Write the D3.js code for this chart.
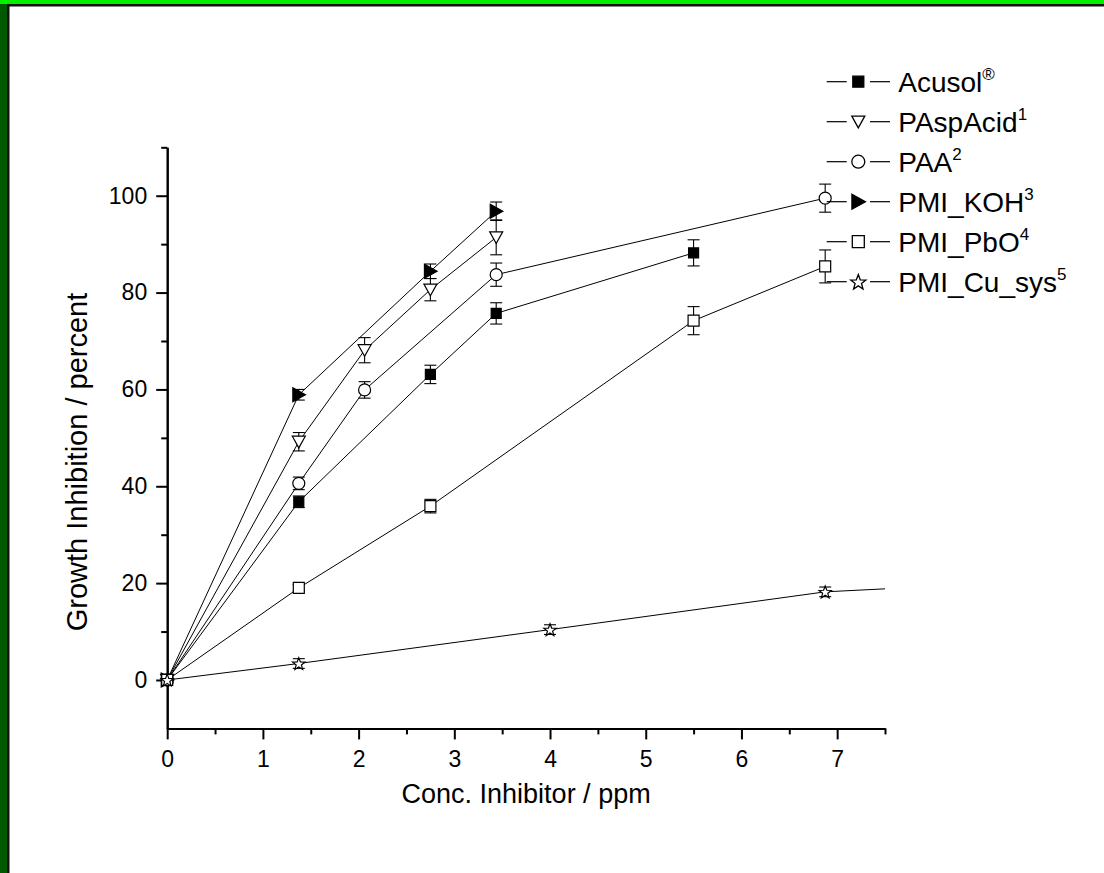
<!DOCTYPE html>
<html>
<head>
<meta charset="utf-8">
<title>Growth inhibition</title>
<script src="https://cdn.jsdelivr.net/npm/d3@7"></script>
<style>
  body { margin: 0; background: #fff; }
  text { font-family: "Liberation Sans", Arial, sans-serif; fill: #000; }
</style>
</head>
<body>
<svg id="svg" width="1104" height="873"></svg>
<script>
// data (conc. in ppm, inhibition in percent, +/- error)
var seriesNames = ["Acusol", "PAspAcid", "PAA", "PMI_KOH", "PMI_PbO", "PMI_Cu_sys"];
var seriesSup = ["\u00AE", "1", "2", "3", "4", "5"];

var acusolX = [0, 1.375, 2.75, 3.4375, 5.5];
var acusolY = [0, 36.8, 63.1, 75.7, 88.2];
var acusolErr = [0.6, 1.2, 1.9, 2.2, 2.7];

var paspX = [0, 1.375, 2.0625, 2.75, 3.4375];
var paspY = [0, 49.2, 68.1, 80.6, 91.4];
var paspErr = [0.6, 1.9, 2.6, 2.3, 3.6];

var paaX = [0, 1.375, 2.0625, 3.4375, 6.875];
var paaY = [0, 40.6, 59.9, 83.7, 99.5];
var paaErr = [0.6, 1.3, 1.7, 2.4, 2.9];

var kohX = [0, 1.375, 2.75, 3.4375];
var kohY = [0, 58.9, 84.4, 96.8];
var kohErr = [0.6, 1.1, 1.5, 1.9];

var pboX = [0, 1.375, 2.75, 5.5, 6.875];
var pboY = [0, 19.0, 35.9, 74.2, 85.4];
var pboErr = [0.3, 0.7, 1.4, 2.9, 3.4];

// last point lies past the axis end, only its line shows
var cuX = [0, 1.375, 4.0, 6.875, 11];
var cuY = [0, 3.4, 10.4, 18.2, 22.3];
var cuErr = [0.8, 1.0, 1.0, 1.0, 0];

var xTicks = [0, 1, 2, 3, 4, 5, 6, 7];
var xMinor = [0.5, 1.5, 2.5, 3.5, 4.5, 5.5, 6.5, 7.5];
var yTicks = [0, 20, 40, 60, 80, 100];
var yMinor = [10, 30, 50, 70, 90, 110];

var markerTypes = ["square", "triangleDown", "circle", "triangleRight", "squareOpen", "star"];

function zip(xs, ys, es){
    return xs.map(function(x, i){ return {x: x, y: ys[i], e: es[i]}; });
}
var series = [
    zip(acusolX, acusolY, acusolErr),
    zip(paspX, paspY, paspErr),
    zip(paaX, paaY, paaErr),
    zip(kohX, kohY, kohErr),
    zip(pboX, pboY, pboErr),
    zip(cuX, cuY, cuErr)
];

var svg = d3.select('#svg');

// frame of the original picture
svg.append('rect').attr('x', 0).attr('y', 0).attr('width', 1104).attr('height', 873).attr('fill', '#fff');
svg.append('rect').attr('x', 0).attr('y', 0).attr('width', 8).attr('height', 873).attr('fill', '#005a00');
svg.append('rect').attr('x', 0).attr('y', 0).attr('width', 1104).attr('height', 4).attr('fill', '#00f000');
svg.append('rect').attr('x', 7).attr('y', 4).attr('width', 1097).attr('height', 2.5).attr('fill', '#111');
svg.append('rect').attr('x', 7).attr('y', 4).attr('width', 2.5).attr('height', 869).attr('fill', '#111');

var x = d3.scaleLinear().domain([0, 7.5]).range([167.2, 885]);
var y = d3.scaleLinear().domain([-10, 110]).range([728.4, 147.3]);

svg.append('clipPath').attr('id', 'plotclip')
    .append('rect').attr('x', x(0) - 10).attr('y', y(110) - 10)
    .attr('width', x(7.5) - x(0) + 10).attr('height', y(-10) - y(110) + 20);

// axes
var gx = svg.append('g').attr('transform', 'translate(0,' + y(-10) + ')');
gx.call(d3.axisBottom(x).tickValues(xTicks).tickSize(11).tickSizeOuter(0).tickPadding(11).tickFormat(d3.format('d')));
svg.append('g').attr('transform', 'translate(0,' + y(-10) + ')')
    .call(d3.axisBottom(x).tickValues(xMinor).tickSize(6).tickSizeOuter(0).tickFormat(''));

var gy = svg.append('g').attr('transform', 'translate(' + x(0) + ',0)');
gy.call(d3.axisLeft(y).tickValues(yTicks).tickSize(11).tickSizeOuter(0).tickPadding(9).tickFormat(d3.format('d')));
svg.append('g').attr('transform', 'translate(' + x(0) + ',0)')
    .call(d3.axisLeft(y).tickValues(yMinor).tickSize(6).tickSizeOuter(0).tickFormat(''));

svg.selectAll('.domain').attr('stroke', '#000').attr('stroke-width', 2);
svg.selectAll('.tick line').attr('stroke', '#000').attr('stroke-width', 2);
svg.selectAll('.tick text').attr('font-size', 23).attr('font-family', '"Liberation Sans", Arial, sans-serif').attr('fill', '#000');

// axis titles
svg.append('text')
    .attr('x', (x(0) + x(7.5)) / 2).attr('y', 803)
    .attr('text-anchor', 'middle').attr('font-size', 27)
    .text('Conc. Inhibitor / ppm');
svg.append('text')
    .attr('transform', 'translate(87,462) rotate(-90)')
    .attr('text-anchor', 'middle').attr('font-size', 29)
    .text('Growth Inhibition / percent');

// marker shapes
function markerPath(type, s){
    var h = s / 2;
    if (type === 'square' || type === 'squareOpen'){
        return 'M' + (-h) + ',' + (-h) + 'H' + h + 'V' + h + 'H' + (-h) + 'Z';
    }
    if (type === 'triangleDown'){
        return 'M' + (-h) + ',' + (-h * 0.85) + 'H' + h + 'L0,' + (h * 0.95) + 'Z';
    }
    if (type === 'triangleRight'){
        return 'M' + (-h * 0.85) + ',' + (-h) + 'L' + (h * 0.95) + ',0L' + (-h * 0.85) + ',' + h + 'Z';
    }
    if (type === 'circle'){
        return 'M' + h + ',0A' + h + ',' + h + ' 0 1,1 ' + (-h) + ',0A' + h + ',' + h + ' 0 1,1 ' + h + ',0Z';
    }
    // star
    var pts = [];
    for (var k = 0; k < 10; k++){
        var r = k % 2 === 0 ? h : h * 0.42;
        var a = -Math.PI / 2 + k * Math.PI / 5;
        pts.push([r * Math.cos(a), r * Math.sin(a) + h * 0.1]);
    }
    return 'M' + pts.map(function(p){ return p[0].toFixed(2) + ',' + p[1].toFixed(2); }).join('L') + 'Z';
}
function markerFill(type){
    return (type === 'square' || type === 'triangleRight') ? '#000' : '#fff';
}
var markerSize = [10, 13, 12, 14, 11, 13];
var legendSize = [11, 13, 13, 15, 12, 16];

var plot = svg.append('g').attr('clip-path', 'url(#plotclip)');
var line = d3.line().x(function(d){ return x(d.x); }).y(function(d){ return y(d.y); });

series.forEach(function(data){
    plot.append('path').datum(data).attr('d', line)
        .attr('fill', 'none').attr('stroke', '#000').attr('stroke-width', 1);
});

series.forEach(function(data){
    var g = svg.append('g');
    data.filter(function(d){ return d.e > 0 && d.x <= 7.5; }).forEach(function(d){
        var cx = x(d.x), y1 = y(d.y + d.e), y2 = y(d.y - d.e);
        g.append('line').attr('x1', cx).attr('x2', cx).attr('y1', y1).attr('y2', y2)
            .attr('stroke', '#000').attr('stroke-width', 1.1);
        [y1, y2].forEach(function(yy){
            g.append('line').attr('x1', cx - 6).attr('x2', cx + 6).attr('y1', yy).attr('y2', yy)
                .attr('stroke', '#000').attr('stroke-width', 1.1);
        });
    });
});

series.forEach(function(data, i){
    svg.append('g').selectAll('path')
        .data(data.filter(function(d){ return d.x <= 7.5; }))
        .enter().append('path')
        .attr('transform', function(d){ return 'translate(' + x(d.x) + ',' + y(d.y) + ')'; })
        .attr('d', markerPath(markerTypes[i], markerSize[i]))
        .attr('fill', markerFill(markerTypes[i]))
        .attr('stroke', '#000').attr('stroke-width', 1.2);
});

// legend
var legend = svg.append('g').attr('transform', 'translate(858.3,81.7)');
seriesNames.forEach(function(name, i){
    var row = legend.append('g').attr('transform', 'translate(0,' + (i * 40) + ')');
    row.append('line').attr('x1', -31.6).attr('x2', -11.6).attr('y1', 0).attr('y2', 0)
        .attr('stroke', '#000').attr('stroke-width', 1.2);
    row.append('line').attr('x1', 11.7).attr('x2', 31.7).attr('y1', 0).attr('y2', 0)
        .attr('stroke', '#000').attr('stroke-width', 1.2);
    row.append('path').attr('d', markerPath(markerTypes[i], legendSize[i]))
        .attr('fill', markerFill(markerTypes[i])).attr('stroke', '#000').attr('stroke-width', 1.3);
    var t = row.append('text').attr('x', 40).attr('y', 10).attr('font-size', 28).text(name);
    t.append('tspan').attr('font-size', 17).attr('dy', -11.4).text(seriesSup[i]);
});
</script>
</body>
</html>
